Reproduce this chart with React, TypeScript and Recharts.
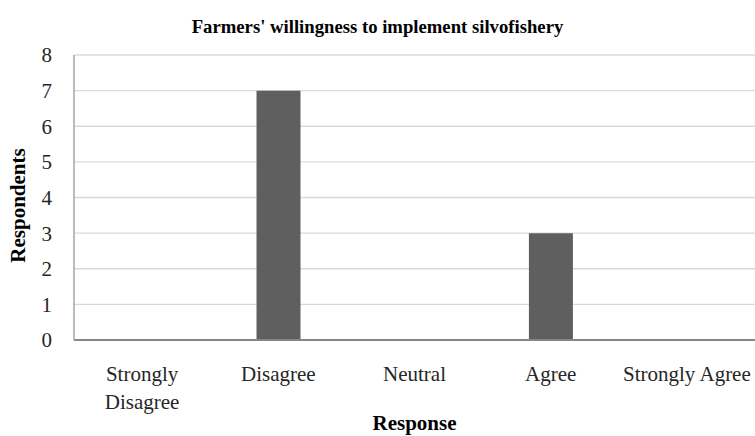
import { BarChart, Bar, XAxis, YAxis, CartesianGrid, Label } from 'recharts';

const responses = ['Strongly Disagree', 'Disagree', 'Neutral', 'Agree', 'Strongly Agree'];
const respondents = [0, 7, 0, 3, 0];
const yTicks = [0, 1, 2, 3, 4, 5, 6, 7, 8];

const data = responses.map((response, i) => ({ response, count: respondents[i] }));

const FONT = '"Liberation Serif", "Times New Roman", serif';

// Excel-style wrapping: only the long label breaks onto two lines
function ResponseTick({ x, y, payload }: any) {
  const label: string = payload.value;
  const lines = label === 'Strongly Disagree' ? ['Strongly', 'Disagree'] : [label];
  return (
    <text x={x} y={y} textAnchor="middle" fontFamily={FONT} fontSize={21} fill="#262626">
      {lines.map((line, i) => (
        <tspan key={i} x={x} dy={i === 0 ? 39 : 28}>
          {line}
        </tspan>
      ))}
    </text>
  );
}

// vertical axis title, sitting a little below the plot's middle
function RespondentsLabel({ viewBox }: any) {
  const cx = 25;
  const cy = viewBox.y + viewBox.height / 2 + 8;
  return (
    <text
      x={cx}
      y={cy}
      transform={`rotate(-90, ${cx}, ${cy})`}
      textAnchor="middle"
      fontFamily={FONT}
      fontWeight="bold"
      fontSize={21}
      fill="#000"
    >
      Respondents
    </text>
  );
}

export default function App() {
  return (
    <div style={{ position: 'absolute', left: 0, top: 0, width: 755, height: 436, background: '#fff' }}>
      <div
        style={{
          position: 'absolute',
          top: 16,
          width: 755,
          textAlign: 'center',
          fontFamily: FONT,
          fontWeight: 'bold',
          fontSize: 18.7,
          color: '#000',
        }}
      >
        Farmers' willingness to implement silvofishery
      </div>
      <BarChart
        width={755}
        height={436}
        data={data}
        margin={{ top: 55, right: 0, left: 0, bottom: 0 }}
        barCategoryGap="34%"
      >
        <CartesianGrid vertical={false} stroke="#d9d9d9" strokeWidth={1.3} />
        <XAxis
          dataKey="response"
          tick={<ResponseTick />}
          tickLine={false}
          tickSize={0}
          height={96}
          stroke="#868686"
          strokeWidth={2}
          interval={0}
        >
          <Label
            value="Response"
            position="insideBottom"
            offset={6}
            style={{ fontFamily: FONT, fontWeight: 'bold', fontSize: 21, fill: '#000' }}
          />
        </XAxis>
        <YAxis
          domain={[0, 8]}
          ticks={yTicks}
          interval={0}
          width={74}
          tickLine={false}
          tickSize={0}
          tickMargin={22}
          stroke="#a6a6a6"
          strokeWidth={1.5}
          tick={{ fontFamily: FONT, fontSize: 21, fill: '#262626' }}
        >
          <Label content={<RespondentsLabel />} />
        </YAxis>
        <Bar dataKey="count" fill="#5f5f5f" isAnimationActive={false} />
      </BarChart>
    </div>
  );
}
